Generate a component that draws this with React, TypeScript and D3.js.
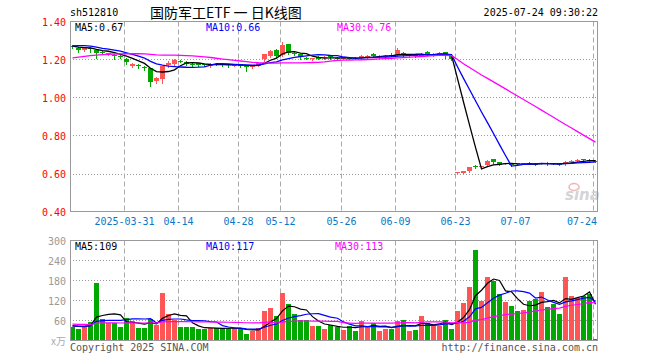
import React from 'react';
import * as d3 from 'd3';

// sessions shown, 2025-03-18 .. 2025-07-24
const dates = [
  '03-18', '03-19', '03-20', '03-21', '03-24', '03-25', '03-26', '03-27', '03-28', '03-31',
  '04-01', '04-02', '04-03', '04-07', '04-08', '04-09', '04-10', '04-11', '04-14', '04-15',
  '04-16', '04-17', '04-18', '04-21', '04-22', '04-23', '04-24', '04-25', '04-28', '04-29',
  '04-30', '05-06', '05-07', '05-08', '05-09', '05-12', '05-13', '05-14', '05-15', '05-16',
  '05-19', '05-20', '05-21', '05-22', '05-23', '05-26', '05-27', '05-28', '05-29', '05-30',
  '06-03', '06-04', '06-05', '06-06', '06-09', '06-10', '06-11', '06-12', '06-13', '06-16',
  '06-17', '06-18', '06-19', '06-20', '06-23', '06-24', '06-25', '06-26', '06-27', '06-30',
  '07-01', '07-02', '07-03', '07-04', '07-07', '07-08', '07-09', '07-10', '07-11', '07-14',
  '07-15', '07-16', '07-17', '07-18', '07-21', '07-22', '07-23', '07-24',
];

const opens = [
  1.270, 1.262, 1.251, 1.262, 1.250, 1.240, 1.228, 1.226, 1.220, 1.202,
  1.167, 1.172, 1.161, 1.153, 1.088, 1.098, 1.169, 1.174, 1.193, 1.187,
  1.178, 1.180, 1.175, 1.166, 1.178, 1.176, 1.174, 1.168, 1.174, 1.168,
  1.160, 1.167, 1.200, 1.218, 1.250, 1.223, 1.281, 1.236, 1.228, 1.208,
  1.202, 1.213, 1.207, 1.218, 1.210, 1.205, 1.210, 1.208, 1.207, 1.214,
  1.228, 1.214, 1.215, 1.226, 1.223, 1.236, 1.220, 1.226, 1.220, 1.240,
  1.220, 1.226, 1.238, 1.218, 0.603, 0.604, 0.613, 0.638, 0.634, 0.644,
  0.674, 0.659, 0.650, 0.652, 0.654, 0.650, 0.656, 0.652, 0.650, 0.656,
  0.655, 0.653, 0.648, 0.664, 0.668, 0.674, 0.672, 0.668,
];
const highs = [
  1.274, 1.266, 1.263, 1.265, 1.252, 1.244, 1.236, 1.230, 1.224, 1.206,
  1.180, 1.178, 1.165, 1.156, 1.109, 1.166, 1.190, 1.202, 1.198, 1.190,
  1.182, 1.184, 1.178, 1.179, 1.183, 1.180, 1.176, 1.175, 1.176, 1.170,
  1.168, 1.183, 1.230, 1.250, 1.254, 1.290, 1.284, 1.240, 1.230, 1.212,
  1.210, 1.216, 1.220, 1.224, 1.214, 1.212, 1.214, 1.211, 1.222, 1.226,
  1.232, 1.222, 1.224, 1.232, 1.258, 1.240, 1.228, 1.230, 1.232, 1.244,
  1.232, 1.240, 1.242, 1.222, 0.609, 0.614, 0.635, 0.645, 0.640, 0.669,
  0.676, 0.660, 0.655, 0.654, 0.657, 0.656, 0.659, 0.654, 0.656, 0.660,
  0.657, 0.654, 0.665, 0.669, 0.674, 0.678, 0.675, 0.669,
];
const lows = [
  1.262, 1.240, 1.245, 1.242, 1.210, 1.228, 1.224, 1.202, 1.207, 1.174,
  1.163, 1.156, 1.146, 1.061, 1.077, 1.077, 1.161, 1.170, 1.185, 1.172,
  1.162, 1.168, 1.165, 1.163, 1.170, 1.168, 1.158, 1.165, 1.163, 1.140,
  1.156, 1.165, 1.190, 1.215, 1.212, 1.220, 1.230, 1.226, 1.204, 1.200,
  1.198, 1.202, 1.204, 1.200, 1.200, 1.202, 1.200, 1.200, 1.204, 1.210,
  1.212, 1.210, 1.212, 1.216, 1.220, 1.220, 1.214, 1.214, 1.216, 1.224,
  1.216, 1.222, 1.208, 1.198, 0.601, 0.602, 0.610, 0.628, 0.632, 0.642,
  0.648, 0.643, 0.648, 0.642, 0.647, 0.648, 0.649, 0.644, 0.648, 0.647,
  0.648, 0.644, 0.647, 0.660, 0.664, 0.665, 0.665, 0.662,
];
const closes = [
  1.266, 1.250, 1.260, 1.257, 1.232, 1.235, 1.233, 1.221, 1.212, 1.188,
  1.177, 1.168, 1.153, 1.082, 1.103, 1.165, 1.181, 1.197, 1.190, 1.176,
  1.175, 1.172, 1.170, 1.176, 1.174, 1.172, 1.170, 1.172, 1.168, 1.162,
  1.165, 1.180, 1.227, 1.246, 1.218, 1.276, 1.235, 1.230, 1.211, 1.204,
  1.206, 1.205, 1.212, 1.214, 1.206, 1.208, 1.205, 1.205, 1.218, 1.218,
  1.218, 1.219, 1.220, 1.220, 1.248, 1.224, 1.224, 1.222, 1.226, 1.228,
  1.228, 1.236, 1.222, 1.204, 0.607, 0.612, 0.633, 0.632, 0.637, 0.664,
  0.660, 0.646, 0.653, 0.646, 0.650, 0.654, 0.652, 0.648, 0.654, 0.652,
  0.651, 0.647, 0.662, 0.668, 0.671, 0.670, 0.668, 0.664,
];
// volume, x万
const volumes = [
  40, 36, 44, 57, 174, 64, 52, 52, 42, 68,
  60, 38, 38, 65, 47, 144, 81, 62, 42, 40,
  40, 36, 34, 39, 37, 37, 37, 37, 34, 20,
  30, 38, 90, 98, 74, 144, 110, 80, 62, 62,
  44, 44, 36, 47, 40, 32, 44, 30, 60, 40,
  52, 30, 34, 36, 60, 62, 30, 32, 74, 54,
  44, 44, 62, 36, 88, 114, 162, 272, 118, 192,
  178, 140, 117, 104, 90, 92, 118, 126, 146, 102,
  110, 80, 190, 135, 128, 135, 141, 6,
];
// sessions before the window, only feeding the moving averages at the left edge
const earlierCloses = [
  1.13, 1.14, 1.15, 1.16, 1.17, 1.16, 1.18, 1.19, 1.17, 1.18,
  1.16, 1.17, 1.17, 1.18, 1.19, 1.20, 1.20, 1.21, 1.22, 1.22,
  1.24, 1.26, 1.28, 1.29, 1.295, 1.28, 1.27, 1.269, 1.27,
];
const earlierVolumes = [
  55, 48, 62, 50, 45, 58, 52, 47, 60, 49,
  53, 46, 51, 57, 44, 50, 55, 48, 52, 47,
  42, 47, 40, 46, 45, 43, 48, 44, 45,
];

const tickDates = ['03-31', '04-14', '04-28', '05-12', '05-26', '06-09', '06-23', '07-07', '07-24'];
const priceTicks = [1.4, 1.2, 1.0, 0.8, 0.6, 0.4];
const volumeTicks = [300, 240, 180, 120, 60];
const maPeriods = [5, 10, 30];
const maColors = ['#000000', '#0000ff', '#ff00ff'];

const RED = '#ff5555';
const GREEN = '#00a800';
const MONO = '"DejaVu Sans Mono", monospace';

function movingAverage(earlier: number[], values: number[], n: number) {
  const all = earlier.concat(values);
  const off = earlier.length;
  return values.map((_, i) => d3.mean(all.slice(off + i - n + 1, off + i + 1)) as number);
}

export default function App() {
  const left = 70, right = 598;
  const top = 21.5, bottom = 211.5;
  const vTop = 240.5, vBottom = 340.5;

  const x = d3.scaleBand<number>().domain(d3.range(closes.length)).range([left, right]).paddingInner(1 / 6);
  const bx = (i: number) => Math.round(x(i) as number);
  const cx = (i: number) => bx(i) + 2.5;

  const y = d3.scaleLinear().domain([0.4, 1.4]).range([bottom, top]);
  const yv = d3.scaleLinear().domain([0, 300]).range([vBottom, vTop]);

  const priceMAs = maPeriods.map(n => movingAverage(earlierCloses, closes, n));
  const volMAs = maPeriods.map(n => movingAverage(earlierVolumes, volumes, n));

  const priceLine = d3.line<number>().x((_, i) => cx(i)).y(v => y(v));
  const volLine = d3.line<number>().x((_, i) => cx(i)).y(v => yv(v));

  const tickIdx = tickDates.map(d => dates.indexOf(d));
  const last = closes.length - 1;

  const gridV = (y0: number, y1: number) =>
    tickIdx.map(i => (
      <line key={i} x1={bx(i) + 0.5} x2={bx(i) + 0.5} y1={y0} y2={y1}
        stroke="#aaa" strokeDasharray="5,3" />
    ));

  return (
    <svg width={660} height={360} style={{ position: 'absolute', left: 0, top: 0, background: '#fff' }}
      fontFamily={MONO} fontSize={10}>
      <rect width={660} height={360} fill="#fff" />

      {/* header */}
      <text x={70} y={16} fill="#000">sh512810</text>
      <text x={150} y={18} fontSize={14} fontFamily='"Noto Sans CJK SC", sans-serif' fill="#000">国防军工ETF 一 日K线图</text>
      <text x={598} y={16} textAnchor="end" fill="#000">2025-07-24 09:30:22</text>

      {/* price panel grid */}
      {priceTicks.slice(1, -1).map(t => (
        <line key={t} x1={left} x2={right} y1={Math.round(y(t)) + 0.5} y2={Math.round(y(t)) + 0.5}
          stroke="#999" strokeDasharray="1,2" />
      ))}
      {gridV(top, bottom)}
      {priceTicks.map(t => (
        <text key={t} x={66} y={y(t) + 4} textAnchor="end" fill="#ff0000">{t.toFixed(2)}</text>
      ))}

      {/* watermark */}
      <ellipse cx={574} cy={187} rx={5} ry={3.5} fill="none" stroke="#f3b4b4" strokeWidth={1.5} />
      <text x={565} y={200} fontFamily='"DejaVu Sans", sans-serif' fontSize={15} fontWeight="bold"
        fontStyle="italic" fill="#d4d4d4">sina</text>

      {/* candles */}
      <g shapeRendering="crispEdges">
        {closes.map((c, i) => {
          const o = opens[i];
          const col = c >= o ? RED : GREEN;
          const yt = Math.round(y(Math.max(o, c)));
          const yb = Math.round(y(Math.min(o, c)));
          return (
            <g key={i}>
              <line x1={cx(i)} x2={cx(i)} y1={Math.round(y(highs[i]))} y2={Math.round(y(lows[i])) + 1} stroke={col} />
              <rect x={bx(i)} y={yt} width={5} height={Math.max(1, yb - yt)} fill={col} />
            </g>
          );
        })}
      </g>
      {priceMAs.map((m, k) => (
        <path key={k} d={priceLine(m) as string} fill="none" stroke={maColors[k]} strokeWidth={1.3} />
      ))}
      <rect x={left + 0.5} y={top} width={right - left - 1} height={bottom - top} fill="none" stroke="#999" />
      {priceMAs.map((m, k) => (
        <text key={k} x={[75, 206, 337][k]} y={31} fill={maColors[k]}>
          MA{maPeriods[k]}:{m[last].toFixed(2)}
        </text>
      ))}

      {/* date axis */}
      {tickIdx.map((i, k) => {
        const isLast = k === tickIdx.length - 1;
        return (
          <text key={i} x={isLast ? right - 1 : bx(i) + 0.5} y={225} textAnchor={isLast ? 'end' : 'middle'} fill="#0a78c8">
            {k === 0 ? '2025-' + dates[i] : dates[i]}
          </text>
        );
      })}

      {/* volume panel */}
      {volumeTicks.slice(1).map(t => (
        <line key={t} x1={left} x2={right} y1={yv(t)} y2={yv(t)} stroke="#999" strokeDasharray="1,2" />
      ))}
      {gridV(vTop, vBottom)}
      {volumeTicks.map(t => (
        <text key={t} x={66} y={yv(t) + 4} textAnchor="end" fill="#999">{t}</text>
      ))}
      <text x={66} y={345} textAnchor="end" fill="#aaa" fontFamily='"Noto Sans CJK SC", serif'>x万</text>
      <g shapeRendering="crispEdges">
        {volumes.map((v, i) => {
          const yt = Math.round(yv(v));
          return (
            <rect key={i} x={bx(i)} y={yt} width={5} height={Math.max(1, 340 - yt)}
              fill={closes[i] >= opens[i] ? RED : GREEN} />
          );
        })}
      </g>
      {volMAs.map((m, k) => (
        <path key={k} d={volLine(m) as string} fill="none" stroke={maColors[k]} strokeWidth={1.2} />
      ))}
      <rect x={left + 0.5} y={vTop} width={right - left - 1} height={vBottom - vTop} fill="none" stroke="#999" />
      {volMAs.map((m, k) => (
        <text key={k} x={[75, 206, 335][k]} y={250} fill={maColors[k]}>
          MA{maPeriods[k]}:{Math.round(m[last])}
        </text>
      ))}

      {/* footer */}
      <text x={70} y={351} fill="#555">Copyright 2025 SINA.COM</text>
      <text x={598} y={351} textAnchor="end" fill="#555">http://finance.sina.com.cn</text>
    </svg>
  );
}
